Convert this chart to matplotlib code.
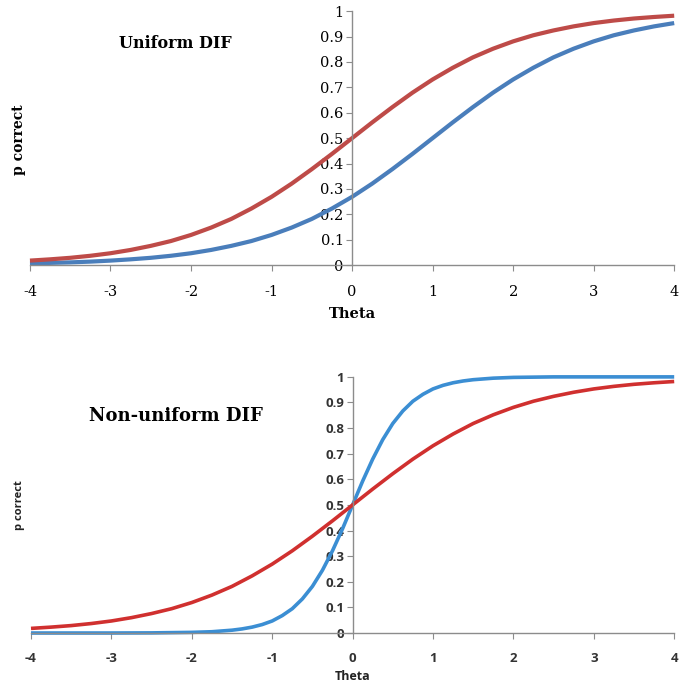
import matplotlib
matplotlib.use("Agg")
import matplotlib.pyplot as plt

# theta grid (step 0.25) and values
theta = [-4, -3.75, -3.5, -3.25, -3, -2.75, -2.5, -2.25, -2, -1.75, -1.5, -1.25, -1,
         -0.75, -0.5, -0.25, 0, 0.25, 0.5, 0.75, 1, 1.25, 1.5, 1.75, 2, 2.25, 2.5,
         2.75, 3, 3.25, 3.5, 3.75, 4]

# Uniform DIF
uni_red = [0.018, 0.023, 0.029, 0.037, 0.047, 0.06, 0.076, 0.095, 0.119, 0.148, 0.182,
           0.223, 0.269, 0.321, 0.378, 0.438, 0.5, 0.562, 0.622, 0.679, 0.731, 0.777,
           0.818, 0.852, 0.881, 0.905, 0.924, 0.94, 0.953, 0.963, 0.971, 0.977, 0.982]
uni_blue = [0.007, 0.009, 0.011, 0.014, 0.018, 0.023, 0.029, 0.037, 0.047, 0.06, 0.076,
            0.095, 0.119, 0.148, 0.182, 0.223, 0.269, 0.321, 0.378, 0.438, 0.5, 0.562,
            0.622, 0.679, 0.731, 0.777, 0.818, 0.852, 0.881, 0.905, 0.924, 0.94, 0.953]

# Non-uniform DIF
non_red = [0.018, 0.023, 0.029, 0.037, 0.047, 0.06, 0.076, 0.095, 0.119, 0.148, 0.182,
           0.223, 0.269, 0.321, 0.378, 0.438, 0.5, 0.562, 0.622, 0.679, 0.731, 0.777,
           0.818, 0.852, 0.881, 0.905, 0.924, 0.94, 0.953, 0.963, 0.971, 0.977, 0.982]
# steep curve, read more densely around theta = 0
theta_steep = [-4, -3.5, -3, -2.5, -2, -1.75, -1.5, -1.375, -1.25, -1.125, -1, -0.875,
               -0.75, -0.625, -0.5, -0.375, -0.25, -0.125, 0, 0.125, 0.25, 0.375, 0.5,
               0.625, 0.75, 0.875, 1, 1.125, 1.25, 1.375, 1.5, 1.75, 2, 2.5, 3, 3.5, 4]
non_blue = [0.0, 0.0, 0.0, 0.0005, 0.0025, 0.005, 0.011, 0.016, 0.023, 0.033, 0.047,
            0.068, 0.095, 0.133, 0.182, 0.245, 0.321, 0.407, 0.5, 0.593, 0.679, 0.755,
            0.818, 0.867, 0.905, 0.932, 0.953, 0.967, 0.977, 0.984, 0.989, 0.995, 0.998,
            1.0, 1.0, 1.0, 1.0]

xticks = [-4, -3, -2, -1, 0, 1, 2, 3, 4]
yticks = [0, 0.1, 0.2, 0.3, 0.4, 0.5, 0.6, 0.7, 0.8, 0.9, 1]
ylabels = ["0", "0.1", "0.2", "0.3", "0.4", "0.5", "0.6", "0.7", "0.8", "0.9", "1"]

fig = plt.figure(figsize=(6.81, 6.96), dpi=100)


def setup(ax, tickfont, tsize):
    ax.set_xlim(-4, 4)
    ax.set_ylim(0, 1)
    ax.spines["left"].set_position(("data", 0))
    ax.spines["right"].set_visible(False)
    ax.spines["top"].set_visible(False)
    for s in ("left", "bottom"):
        ax.spines[s].set_color("#8c8c8c")
        ax.spines[s].set_linewidth(1.0)
    ax.set_xticks(xticks)
    ax.set_yticks(yticks)
    ax.set_xticklabels([str(t) for t in xticks])
    ax.set_yticklabels(ylabels)
    ax.tick_params(axis="both", direction="out", length=4, color="#8c8c8c",
                   labelsize=tsize)
    ax.tick_params(axis="x", pad=10)
    ax.tick_params(axis="y", pad=2)
    for lab in ax.get_xticklabels() + ax.get_yticklabels():
        lab.set_family(tickfont)
    ax.patch.set_alpha(0)


# top panel
ax1 = fig.add_axes([0.044, 0.619, 0.946, 0.365])
ax1.plot(theta, uni_blue, color="#4A7EBB", lw=3, solid_capstyle="butt", clip_on=False)
ax1.plot(theta, uni_red, color="#BE4B48", lw=3, solid_capstyle="butt", clip_on=False)
setup(ax1, "DejaVu Serif", 10.5)
ax1.set_xlabel("Theta", family="DejaVu Serif", weight="bold", fontsize=10.5, labelpad=6)
fig.text(0.258, 0.937, "Uniform DIF", family="DejaVu Serif", weight="bold",
         fontsize=11.5, ha="center", va="center")
fig.text(0.028, 0.80, "p correct", family="DejaVu Serif", weight="bold",
         fontsize=10, rotation=90, ha="center", va="center")

# bottom panel
ax2 = fig.add_axes([0.0455, 0.0905, 0.9445, 0.368])
ax2.plot(theta_steep, non_blue, color="#3B8ED3", lw=2.6, solid_capstyle="butt",
         clip_on=False)
ax2.plot(theta, non_red, color="#D0302F", lw=2.6, solid_capstyle="butt", clip_on=False)
setup(ax2, "Open Sans", 9.5)
for lab in ax2.get_xticklabels() + ax2.get_yticklabels():
    lab.set_weight("bold")
    lab.set_color("#333333")
ax2.set_xlabel("Theta", family="Open Sans", weight="bold", fontsize=9, labelpad=3,
               color="#222222")
fig.text(0.258, 0.403, "Non-uniform DIF", family="DejaVu Serif", weight="bold",
         fontsize=13, ha="center", va="center")
fig.text(0.028, 0.274, "p correct", family="Open Sans", weight="bold",
         fontsize=8, rotation=90, ha="center", va="center", color="#222222")

fig.savefig("out.png", dpi=100)
